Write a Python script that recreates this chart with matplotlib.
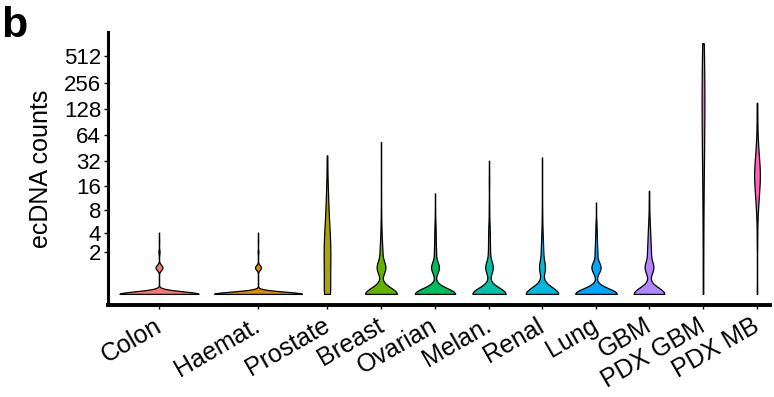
# ecDNA counts per tumour type, violin plot on a log2(x+1) axis
import numpy as np
import matplotlib.pyplot as plt
from matplotlib.transforms import ScaledTranslation

plt.rcParams['font.family'] = ['Liberation Sans', 'DejaVu Sans']

categories = ["Colon", "Haemat.", "Prostate", "Breast", "Ovarian", "Melan.",
              "Renal", "Lung", "GBM", "PDX GBM", "PDX MB"]
colors = ["#F8766D", "#DB8E00", "#AEA200", "#64B200", "#00BD5C", "#00C1A7",
          "#00BADE", "#00A6FF", "#B385FF", "#EF67EB", "#FF63B6"]
# category positions along x (uneven spacing as in the figure)
x_pos = [159, 258, 327, 381, 435, 489, 542, 596, 649, 703, 757]

colon_vals = [0, 1, 2, 3, 4]
colon_freq = [360, 32, 5, 2, 1]
haemat_vals = [0, 1, 2, 3, 4]
haemat_freq = [410, 28, 4, 2, 1]
prostate_vals = [0, 1, 2, 3, 4, 5, 6, 8, 10, 12, 16, 37]
prostate_freq = [10, 6, 5, 3, 2, 2, 1, 1, 1, 1, 1, 1]
breast_vals = [0, 1, 2, 3, 4, 5, 6, 8, 12, 20, 53]
breast_freq = [110, 30, 8, 4, 2, 1, 1, 1, 1, 1, 1]
ovarian_vals = [0, 1, 2, 3, 4, 5, 6, 8, 13]
ovarian_freq = [155, 30, 7, 4, 3, 2, 1, 1, 1]
melan_vals = [0, 1, 2, 3, 4, 5, 6, 8, 10, 16, 20, 32]
melan_freq = [120, 27, 6, 4, 3, 2, 1, 1, 1, 1, 1, 1]
renal_vals = [0, 1, 2, 3, 4, 5, 6, 8, 12, 35]
renal_freq = [124, 22, 7, 4, 2, 1, 1, 1, 1, 1]
lung_vals = [0, 1, 2, 3, 4, 5, 6, 10]
lung_freq = [155, 34, 9, 5, 3, 2, 1, 1]
gbm_vals = [0, 1, 2, 3, 4, 5, 6, 8, 10, 14]
gbm_freq = [100, 28, 10, 6, 4, 2, 2, 1, 1, 1]
pdxgbm_vals = [0, 4, 12, 25, 40, 60, 80, 110, 150, 200, 260, 350, 480, 720]
pdxgbm_freq = [1] * 14
pdxmb_vals = [0, 3, 6, 9, 12, 16, 19, 22, 26, 30, 36, 45, 60, 90, 150]
pdxmb_freq = [1, 1, 1, 2, 3, 3, 3, 3, 3, 2, 2, 2, 1, 1, 1]

all_vals = [colon_vals, haemat_vals, prostate_vals, breast_vals, ovarian_vals, melan_vals,
            renal_vals, lung_vals, gbm_vals, pdxgbm_vals, pdxmb_vals]
all_freq = [colon_freq, haemat_freq, prostate_freq, breast_freq, ovarian_freq, melan_freq,
            renal_freq, lung_freq, gbm_freq, pdxgbm_freq, pdxmb_freq]


def fwd(v):
    return np.log2(np.asarray(v, dtype=float) + 1)


def inv(t):
    return 2.0 ** np.asarray(t, dtype=float) - 1


def density(vals, freq):
    # gaussian kde in log2(x+1) space, bandwidth like R's bw.nrd0, trimmed to data range
    x = np.repeat(fwd(vals), freq)
    n = len(x)
    sd = x.std(ddof=1)
    q25, q75 = np.percentile(x, [25, 75])
    lo = min(sd, (q75 - q25) / 1.34)
    if lo == 0:
        lo = sd
    bw = 0.9 * lo * n ** -0.2
    grid = np.linspace(x.min(), x.max(), 512)
    d = np.exp(-0.5 * ((grid[:, None] - x[None, :]) / bw) ** 2).sum(1) / (n * bw * np.sqrt(2 * np.pi))
    return grid, d, n


dens = [density(v, f) for v, f in zip(all_vals, all_freq)]
nmax = max(d[2] for d in dens)
max_half = 44

fig = plt.figure(figsize=(7.74, 3.97), dpi=100)
ax = fig.add_axes([108 / 774, 92 / 397, 662 / 774, 273 / 397])
ax.set_yscale('function', functions=(fwd, inv))

for (grid, d, n), x, c in zip(dens, x_pos, colors):
    hw = max_half * d / d.max() * n / nmax
    ax.fill_betweenx(inv(grid), x - hw, x + hw, facecolor=c, edgecolor='black', linewidth=0.9)

ax.set_xlim(108, 770)
ax.set_ylim(inv(-0.42), inv(9.92))
yt = [2, 4, 8, 16, 32, 64, 128, 256, 512]
ax.set_yticks(yt)
ax.set_yticklabels([str(v) for v in yt])
ax.yaxis.set_minor_locator(plt.NullLocator())
ax.set_xticks(x_pos)
ax.set_xticklabels(categories, rotation=30, ha='right', va='baseline', rotation_mode='anchor')
ax.tick_params(axis='both', length=3, width=1, color='black')
ax.tick_params(axis='x', labelsize=18, pad=15)
ax.tick_params(axis='y', labelsize=16, pad=2)
ax.set_ylabel("ecDNA counts", fontsize=18, labelpad=8)

# nudge x labels slightly right, as in the figure
shift = ScaledTranslation(4 / 100, 0, fig.dpi_scale_trans)
for lab in ax.get_xticklabels():
    lab.set_transform(lab.get_transform() + shift)

ax.spines['top'].set_visible(False)
ax.spines['right'].set_visible(False)
ax.spines['left'].set_linewidth(2.2)
ax.spines['bottom'].set_linewidth(2.8)

fig.text(0.001, 0.985, "b", fontsize=31, fontweight='bold', va='top', ha='left')

plt.savefig("out.png", dpi=100)
